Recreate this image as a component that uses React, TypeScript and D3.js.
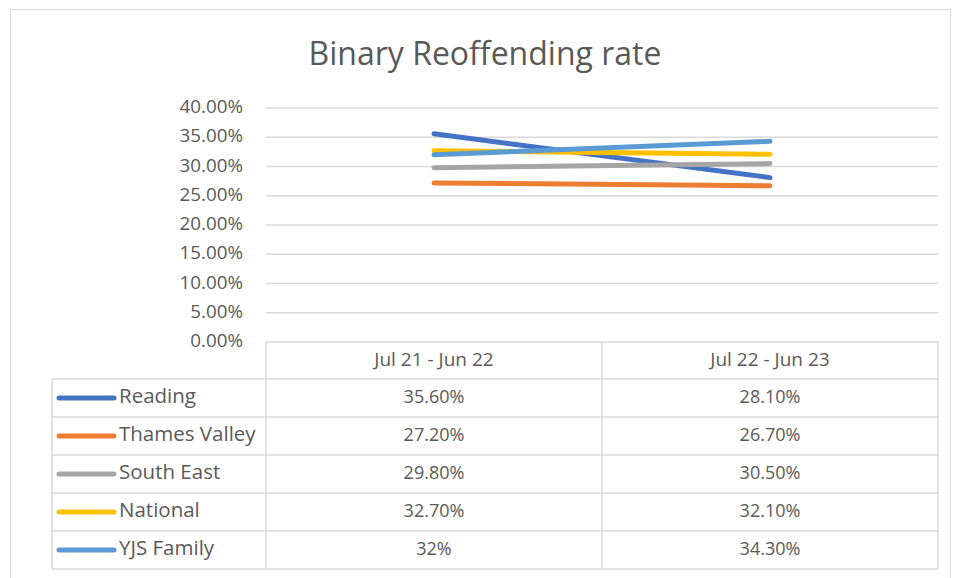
import { useMemo } from 'react';
import * as d3 from 'd3';

const categories = ['Jul 21 - Jun 22', 'Jul 22 - Jun 23'];
const seriesNames = ['Reading', 'Thames Valley', 'South East', 'National', 'YJS Family'];
const reading = [0.356, 0.281];
const thamesValley = [0.272, 0.267];
const southEast = [0.298, 0.305];
const national = [0.327, 0.321];
const yjsFamily = [0.32, 0.343];
// table text as shown in the sheet
const readingLabels = ['35.60%', '28.10%'];
const thamesValleyLabels = ['27.20%', '26.70%'];
const southEastLabels = ['29.80%', '30.50%'];
const nationalLabels = ['32.70%', '32.10%'];
const yjsFamilyLabels = ['32%', '34.30%'];
const yTicks = [0, 0.05, 0.1, 0.15, 0.2, 0.25, 0.3, 0.35, 0.4];

const colors = ['#4472C4', '#ED7D31', '#A5A5A5', '#FFC000', '#5B9BD5'];

const WIDTH = 956;
const HEIGHT = 578;
const PLOT_LEFT = 266;
const PLOT_RIGHT = 938;
const PLOT_TOP = 108;
const PLOT_BOTTOM = 342;
const TABLE_LEFT = 52;
const HEADER_H = 37;
const ROW_H = 38;
const FONT = '"Open Sans", "Liberation Sans", sans-serif';
const TEXT = '#595959';
const GRID = '#D9D9D9';

export default function App() {
  const series = useMemo(
    () => [
      { name: seriesNames[0], values: reading, labels: readingLabels },
      { name: seriesNames[1], values: thamesValley, labels: thamesValleyLabels },
      { name: seriesNames[2], values: southEast, labels: southEastLabels },
      { name: seriesNames[3], values: national, labels: nationalLabels },
      { name: seriesNames[4], values: yjsFamily, labels: yjsFamilyLabels },
    ],
    [],
  );

  const x = d3.scaleBand<string>().domain(categories).range([PLOT_LEFT, PLOT_RIGHT]);
  const y = d3.scaleLinear().domain([0, 0.4]).range([PLOT_BOTTOM, PLOT_TOP]);
  const rowY = d3
    .scaleBand<string>()
    .domain(seriesNames)
    .range([PLOT_BOTTOM + HEADER_H, PLOT_BOTTOM + HEADER_H + ROW_H * seriesNames.length]);

  const line = d3
    .line<number>()
    .x((_, i) => x(categories[i])! + x.bandwidth() / 2)
    .y((d) => y(d));

  const tableBottom = rowY.range()[1];
  const fmt = d3.format('.2%');

  return (
    <svg
      width={WIDTH}
      height={HEIGHT}
      style={{ position: 'absolute', left: 0, top: 0, background: '#fff' }}
      fontFamily={FONT}
    >
      <rect x={10.5} y={9.5} width={940} height={600} fill="#fff" stroke={GRID} />

      <text x={485} y={65} textAnchor="middle" fontSize={32} fill={TEXT}>
        Binary Reoffending rate
      </text>

      {/* gridlines + y labels */}
      {yTicks.map((t) => (
        <g key={t}>
          {t > 0 && (
            <line x1={PLOT_LEFT} x2={PLOT_RIGHT} y1={y(t)} y2={y(t)} stroke={GRID} strokeWidth={1.5} />
          )}
          <text
            x={243}
            y={y(t)}
            textAnchor="end"
            dominantBaseline="middle"
            fontSize={18.8}
            fill={TEXT}
          >
            {fmt(t)}
          </text>
        </g>
      ))}

      {/* data table */}
      <g stroke={GRID} strokeWidth={1.5} fill="none">
        <line x1={PLOT_LEFT} x2={PLOT_RIGHT} y1={PLOT_BOTTOM} y2={PLOT_BOTTOM} />
        <line x1={TABLE_LEFT} x2={PLOT_RIGHT} y1={PLOT_BOTTOM + HEADER_H} y2={PLOT_BOTTOM + HEADER_H} />
        {seriesNames.map((s) => (
          <line
            key={s}
            x1={TABLE_LEFT}
            x2={PLOT_RIGHT}
            y1={rowY(s)! + ROW_H}
            y2={rowY(s)! + ROW_H}
          />
        ))}
        <line x1={TABLE_LEFT} x2={TABLE_LEFT} y1={PLOT_BOTTOM + HEADER_H} y2={tableBottom} />
        {categories.map((c) => (
          <line key={c} x1={x(c)} x2={x(c)} y1={PLOT_BOTTOM} y2={tableBottom} />
        ))}
        <line x1={PLOT_RIGHT} x2={PLOT_RIGHT} y1={PLOT_BOTTOM} y2={tableBottom} />
      </g>

      {categories.map((c) => (
        <text
          key={c}
          x={x(c)! + x.bandwidth() / 2}
          y={PLOT_BOTTOM + HEADER_H / 2}
          textAnchor="middle"
          dominantBaseline="middle"
          fontSize={19}
          fill={TEXT}
        >
          {c}
        </text>
      ))}

      {series.map((s, i) => {
        const cy = rowY(s.name)! + ROW_H / 2;
        return (
          <g key={s.name}>
            <line
              x1={59}
              x2={114}
              y1={cy}
              y2={cy}
              stroke={colors[i]}
              strokeWidth={5}
              strokeLinecap="round"
            />
            <text x={119} y={cy} dominantBaseline="middle" fontSize={20.5} fill={TEXT}>
              {s.name}
            </text>
            {s.labels.map((l, j) => (
              <text
                key={j}
                x={x(categories[j])! + x.bandwidth() / 2}
                y={cy}
                textAnchor="middle"
                dominantBaseline="middle"
                fontSize={18}
                fill={TEXT}
              >
                {l}
              </text>
            ))}
          </g>
        );
      })}

      {/* series lines */}
      {series.map((s, i) => (
        <path
          key={s.name}
          d={line(s.values)!}
          fill="none"
          stroke={colors[i]}
          strokeWidth={5}
          strokeLinecap="round"
        />
      ))}
    </svg>
  );
}
